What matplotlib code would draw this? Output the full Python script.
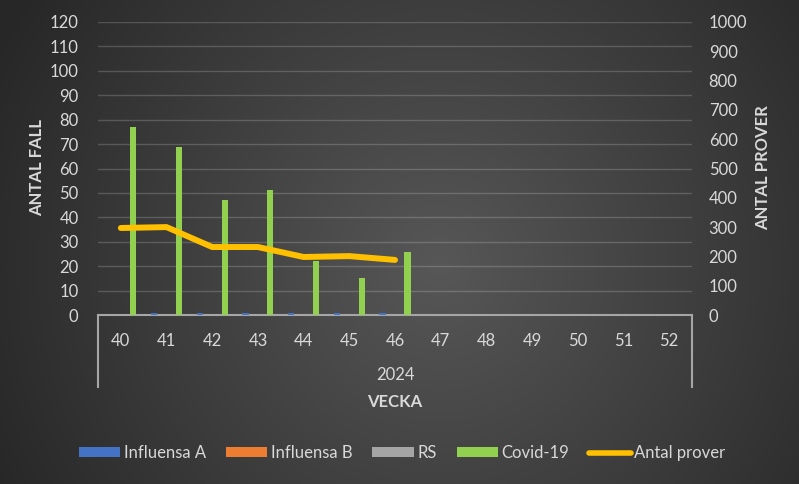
import numpy as np
import matplotlib
matplotlib.use("Agg")
import matplotlib.pyplot as plt
from matplotlib.patches import Patch
from matplotlib.lines import Line2D

plt.rcParams['font.family'] = ['Lato', 'DejaVu Sans']

weeks = ['40', '41', '42', '43', '44', '45', '46', '47', '48', '49', '50', '51', '52']
year_label = '2024'
influensa_a = [0, 1, 1, 1, 1, 1, 1, np.nan, np.nan, np.nan, np.nan, np.nan, np.nan]
influensa_b = [0, 0, 0, 0, 0, 0, 0, np.nan, np.nan, np.nan, np.nan, np.nan, np.nan]
rs = [0, 0, 0, 0, 0, 0, 0, np.nan, np.nan, np.nan, np.nan, np.nan, np.nan]
covid = [77, 69, 47, 51, 22, 15, 26, np.nan, np.nan, np.nan, np.nan, np.nan, np.nan]
antal_prover = [297, 300, 232, 232, 198, 201, 188, np.nan, np.nan, np.nan, np.nan, np.nan, np.nan]

series_names = ['Influensa A', 'Influensa B', 'RS', 'Covid-19']
series_vals = [influensa_a, influensa_b, rs, covid]
series_cols = ['#4472c4', '#ed7d31', '#a5a5a5', '#92d050']
line_col = '#ffc000'
txt = '#d9d9d9'
fs = 12

W, H = 799, 484
fig = plt.figure(figsize=(W / 100, H / 100), dpi=100)

# radial gradient background
bg = fig.add_axes([0, 0, 1, 1], zorder=-10)
yy, xx = np.mgrid[0:H, 0:W]
cx, cy = 0.55 * W, 0.55 * H
r = np.sqrt(((xx - cx) / (0.62 * W)) ** 2 + ((yy - cy) / (0.62 * W)) ** 2)
r = np.clip(r, 0, 1)
inner = np.array([0x57, 0x57, 0x57]) / 255
outer = np.array([0x27, 0x27, 0x27]) / 255
img = inner[None, None, :] * (1 - r[..., None]) + outer[None, None, :] * r[..., None]
bg.imshow(img, extent=[0, 1, 0, 1], aspect='auto', origin='upper')
bg.axis('off')

L, R, B, T = 98, 692, 315, 22
ax = fig.add_axes([L / W, 1 - B / H, (R - L) / W, (B - T) / H])
ax.set_facecolor('none')
ax2 = ax.twinx()

x = np.arange(len(weeks))
step = 0.182
bw = 0.135
for k, (vals, col, name) in enumerate(zip(series_vals, series_cols, series_names)):
    ax.bar(x + (k - 1.5) * step, vals, width=bw, color=col, zorder=3, label=name)

ax2.plot(x, antal_prover, color=line_col, lw=4.3, solid_capstyle='round',
         solid_joinstyle='round', zorder=4)

ax.set_xlim(-0.5, len(weeks) - 0.5)
ax.set_ylim(0, 120)
ax.set_yticks(np.arange(0, 121, 10))
ax2.set_ylim(0, 1000)
ax2.set_yticks(np.arange(0, 1001, 100))
ax.grid(axis='y', color='#ffffff', alpha=0.18, lw=1.0, zorder=0)
ax.set_axisbelow(True)

for a in (ax, ax2):
    for s in a.spines.values():
        s.set_visible(False)
ax.spines['bottom'].set_visible(True)
ax.spines['bottom'].set_color('#a6a6a6')
ax.spines['bottom'].set_linewidth(1.5)

ax.set_xticks(x)
ax.set_xticklabels(weeks)
ax.tick_params(axis='x', length=0, pad=13, labelsize=fs, labelcolor=txt)
ax.tick_params(axis='y', length=0, pad=14, labelsize=fs, labelcolor=txt)
ax2.tick_params(axis='y', length=0, pad=12, labelsize=fs, labelcolor=txt)

# multi-level category separators
for px in (L, R):
    fig.add_artist(Line2D([px / W, px / W], [1 - B / H, 1 - 387 / H],
                          color='#a6a6a6', lw=1.5))

fig.text(395 / W, 1 - 375 / H, year_label, ha='center', va='center', color=txt, fontsize=fs)
fig.text(395 / W, 1 - 402 / H, 'VECKA', ha='center', va='center', color=txt,
         fontsize=fs, fontweight='bold')
fig.text(37 / W, 1 - 168 / H, 'ANTAL FALL', ha='center', va='center', color=txt,
         fontsize=fs, fontweight='bold', rotation=90)
fig.text(763 / W, 1 - 168 / H, 'ANTAL PROVER', ha='center', va='center', color=txt,
         fontsize=fs, fontweight='bold', rotation=90)

handles = [Patch(facecolor=c, edgecolor='none') for c in series_cols]
handles.append(Line2D([0], [0], color=line_col, lw=4, solid_capstyle='round'))
labels = series_names + ['Antal prover']
leg = fig.legend(handles, labels, loc='center', bbox_to_anchor=(402 / W, 1 - 453 / H),
                 ncol=5, frameon=False, fontsize=fs, labelcolor=txt,
                 handlelength=2.5, handleheight=0.55, handletextpad=0.2,
                 columnspacing=1.2)

fig.savefig('out.png', dpi=100)
